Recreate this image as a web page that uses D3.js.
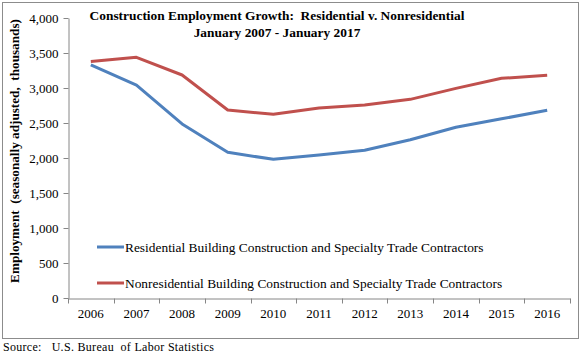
<!DOCTYPE html>
<html><head><meta charset="utf-8">
<script src="https://cdn.jsdelivr.net/npm/d3@7"></script>
<style>body{margin:0;background:#fff}svg{display:block}</style>
</head><body>
<script>
const years = ["2006","2007","2008","2009","2010","2011","2012","2013","2014","2015","2016"];
const residential = [3330, 3040, 2486, 2081, 1981, 2043, 2110, 2260, 2440, 2560, 2681];
const nonresidential = [3378, 3438, 3186, 2686, 2624, 2715, 2757, 2838, 2995, 3138, 3181];
const yTicks = [0, 500, 1000, 1500, 2000, 2500, 3000, 3500, 4000];
const seriesNames = ["Residential Building Construction and Specialty Trade Contractors",
                     "Nonresidential Building Construction and Specialty Trade Contractors"];
const colors = ["#4F81BD", "#C0504D"];

const W = 582, H = 359;
const svg = d3.select("body").append("svg").attr("width", W).attr("height", H);
const serif = "'Liberation Serif','Times New Roman',serif";

svg.append("rect").attr("x", 2.5).attr("y", 2.5).attr("width", 576).attr("height", 336)
  .attr("fill", "#fff").attr("stroke", "#8c8c8c").attr("stroke-width", 1);

const x = d3.scaleBand().domain(years).range([68, 570]);
const y = d3.scaleLinear().domain([0, 4000]).range([298, 18]);

const yAxis = svg.append("g").attr("transform", "translate(68.5,0)")
  .call(d3.axisLeft(y).tickValues(yTicks).tickFormat(d3.format(",")).tickSize(5).tickSizeOuter(0));
const xAxis = svg.append("g").attr("transform", "translate(0,298.5)")
  .call(d3.axisBottom(x).tickSize(0).tickSizeOuter(0));
[yAxis, xAxis].forEach(g => {
  g.selectAll("path,line").attr("stroke", "#868686");
  g.selectAll("text").attr("font-family", serif).attr("font-size", 13).attr("fill", "#000");
});
yAxis.selectAll("text").attr("x", -10);
xAxis.selectAll("text").attr("dy", "1.3em");
// x ticks between categories
const bounds = years.map(d => x(d)).concat([x.range()[1]]);
xAxis.selectAll(".sep").data(bounds).join("line")
  .attr("x1", d => Math.round(d) + 0.5).attr("x2", d => Math.round(d) + 0.5)
  .attr("y1", 0).attr("y2", 5).attr("stroke", "#868686");

const line = d3.line().x((d, i) => x(years[i]) + x.bandwidth() / 2).y(d => y(d));
[residential, nonresidential].forEach((s, k) => {
  svg.append("path").datum(s).attr("d", line).attr("fill", "none")
    .attr("stroke", colors[k]).attr("stroke-width", 3).attr("stroke-linejoin", "round");
});

// Legend
[247, 283].forEach((ly, k) => {
  svg.append("line").attr("x1", 97).attr("x2", 124).attr("y1", ly).attr("y2", ly)
    .attr("stroke", colors[k]).attr("stroke-width", 3);
  svg.append("text").attr("x", 125).attr("y", ly + 4.5).attr("font-family", serif)
    .attr("font-size", 13.4).attr("fill", "#000").text(seriesNames[k]);
});

// Title
const title = svg.append("text").attr("text-anchor", "middle").attr("font-family", serif)
  .attr("font-weight", "bold").attr("font-size", 13.4).attr("fill", "#000");
title.append("tspan").attr("x", 277).attr("y", 20).attr("xml:space", "preserve")
  .text("Construction Employment Growth:  Residential v. Nonresidential");
title.append("tspan").attr("x", 277).attr("y", 37).text("January 2007 - January 2017");

// Y title
svg.append("text").attr("transform", "translate(19,151) rotate(-90)").attr("text-anchor", "middle")
  .attr("font-family", serif).attr("font-weight", "bold").attr("font-size", 13.2).attr("fill", "#000")
  .attr("xml:space", "preserve")
  .text("Employment  (seasonally adjusted,  thousands)");

// Source
svg.append("text").attr("x", 3).attr("y", 351).attr("font-family", serif).attr("font-size", 12)
  .attr("fill", "#000").attr("xml:space", "preserve").attr("letter-spacing", 0.3)
  .text("Source:   U.S. Bureau  of Labor Statistics");
</script>
</body></html>
